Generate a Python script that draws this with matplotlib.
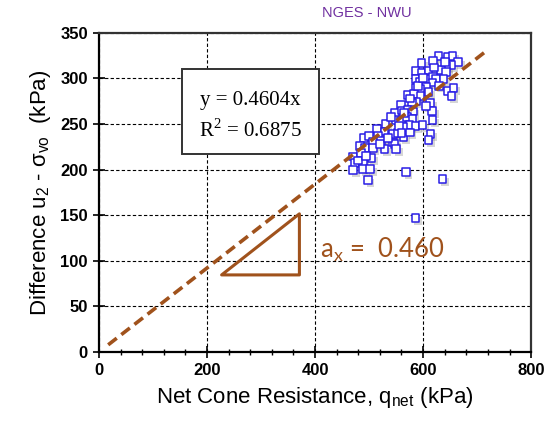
import matplotlib.pyplot as plt
import matplotlib.patheffects as pe
from matplotlib.patches import Rectangle, Polygon

# measured points (q_net, u2 - sigma_vo), kPa
q_net = [628.4, 645.1, 654.3, 664.8, 651.9, 642.6, 617.9, 597.0, 585.8, 597.0,
         609.9, 633.4, 642.6, 585.8, 594.5, 608.1, 618.5, 624.1, 637.7, 617.3,
         605.0, 585.8, 594.5, 609.9, 645.7, 656.2, 652.5, 571.0, 583.4, 595.1,
         613.0, 586.4, 579.0, 559.3, 547.6, 559.9, 571.0, 580.9, 616.7, 617.3,
         548.8, 559.3, 569.8, 580.3, 574.7, 562.4, 585.8, 598.8, 530.3, 514.2,
         528.4, 544.5, 553.1, 563.6, 575.3, 613.6, 609.9, 490.8, 500.6, 516.1,
         506.8, 522.2, 543.9, 547.0, 550.0, 528.4, 483.4, 492.6, 506.8, 471.0,
         484.6, 504.4, 474.1, 488.3, 471.0, 489.5, 501.9, 567.9, 497.5, 635.8,
         585.8, 540.0, 555.0, 565.0, 575.0, 590.0, 600.0, 620.0, 630.0, 520.0,
         535.0, 480.0, 495.0, 605.0, 560.0, 640.0]
du = [324.8, 323.3, 324.8, 317.8, 314.9, 313.8, 318.9, 316.7, 308.0, 305.8,
      308.7, 309.0, 307.2, 299.2, 296.6, 299.5, 302.1, 299.2, 299.2, 295.5,
      291.1, 289.3, 288.2, 284.9, 286.4, 289.3, 280.5, 281.6, 283.1, 280.9,
      272.8, 274.7, 273.6, 270.7, 261.9, 264.8, 265.5, 263.7, 264.1, 254.2,
      254.6, 253.8, 257.5, 255.3, 249.1, 246.9, 247.6, 248.7, 249.8, 244.3,
      241.8, 239.2, 239.9, 235.2, 240.7, 238.8, 232.6, 234.4, 237.0, 237.0,
      230.8, 231.5, 229.7, 227.9, 222.7, 222.7, 225.7, 223.5, 223.5, 214.3,
      218.0, 212.9, 207.0, 208.8, 199.7, 200.8, 200.4, 197.2, 188.4, 189.8,
      146.7, 258.0, 248.0, 262.0, 278.0, 292.0, 300.0, 312.0, 292.0, 228.0,
      235.0, 210.0, 215.0, 270.0, 240.0, 318.0]

slope = 0.4604
r2 = 0.6875
fit_x = [17, 713]
tri_x = [227, 371, 371]
tri_y = [84.5, 84.5, 151.5]

brown = '#A0521C'

plt.rcParams['font.family'] = ['Liberation Sans', 'DejaVu Sans']
fig = plt.figure(figsize=(5.47, 4.21), dpi=100)
ax = fig.add_axes([0.181, 0.164, 0.790, 0.758])

ax.grid(True, color='black', linestyle=(0, (3, 2)), linewidth=0.8)
ax.set_axisbelow(True)

sc = ax.scatter(q_net, du, s=32, marker='s', facecolor='white',
                edgecolor='#2a1ee6', linewidth=1.1, zorder=3)
sc.set_path_effects([pe.SimplePatchShadow(offset=(2, -2), shadow_rgbFace='0.6', alpha=0.4),
                     pe.Normal()])

ax.plot(fit_x, [slope * v for v in fit_x], color=brown, linestyle=(0, (3, 1.6)),
        linewidth=2.6, zorder=4)

ax.add_patch(Polygon(list(zip(tri_x, tri_y)), closed=True, fill=False,
                     edgecolor=brown, linewidth=2.2, joinstyle='round', zorder=4))
ax.text(409, 104, r'a$_\mathregular{x}$ =  0.460', color=brown, fontsize=18.5,
        family=['Lato', 'DejaVu Sans'], va='baseline', ha='left', zorder=5)

ax.add_patch(Rectangle((153.7, 217.2), 253.7, 93.3, facecolor='white',
                       edgecolor='#333333', linewidth=1.4, zorder=5))
ax.text(280, 275.4, 'y = %.4fx' % slope, family=['Liberation Serif'], fontsize=15,
        ha='center', va='center', zorder=6)
ax.text(280, 242.5, r'R$^\mathregular{2}$ = %.4f' % r2, family=['Liberation Serif'], fontsize=15,
        ha='center', va='center', zorder=6)

ax.set_xlim(0, 800)
ax.set_ylim(0, 350)
ax.set_xticks(range(0, 801, 200))
ax.set_xticks(range(0, 801, 40), minor=True)
ax.set_yticks(range(0, 351, 50))
ax.tick_params(which='major', direction='inout', length=8, width=1.2, labelsize=12, pad=4)
ax.tick_params(which='minor', direction='inout', length=5, width=1)
for lab in ax.get_xticklabels() + ax.get_yticklabels():
    lab.set_fontweight('bold')
for side in ['left', 'bottom']:
    ax.spines[side].set_linewidth(1.6)
for side in ['top', 'right']:
    ax.spines[side].set_linewidth(1.6)
    ax.spines[side].set_color('#333333')

ax.set_xlabel(r'Net Cone Resistance, q$_\mathregular{net}$ (kPa)', fontsize=16, labelpad=5)
ax.set_ylabel(r'Difference u$_\mathregular{2}$ - $\mathregular{\sigma_{vo}}$  (kPa)',
              fontsize=16, labelpad=5)
fig.text(0.671, 0.970, 'NGES - NWU', color='#7030A0', fontsize=10.5, ha='center', va='center')

fig.savefig('out.png', dpi=100)
